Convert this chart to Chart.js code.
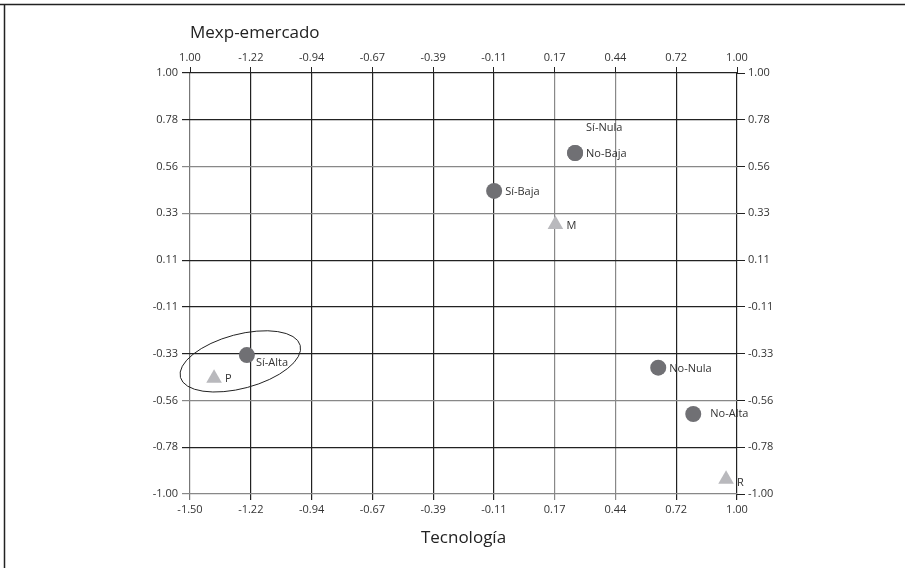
<!DOCTYPE html>
<html>
<head>
<meta charset="utf-8">
<script src="https://cdn.jsdelivr.net/npm/chart.js@4"></script>
<style>
  html, body { margin: 0; padding: 0; background: #fff; }
  #wrap { width: 905px; height: 568px; position: relative; }
</style>
</head>
<body>
<div id="wrap"><canvas id="chart" width="905" height="568"></canvas></div>
<script>
// categories (circles)
const categories = ['Sí-Alta', 'Sí-Baja', 'Sí-Nula', 'No-Baja', 'No-Nula', 'No-Alta'];
const catX = [-1.24, -0.11, 0.26, 0.26, 0.64, 0.80];
const catY = [-0.34, 0.44, 0.62, 0.62, -0.40, -0.62];

// groups (triangles)
const groups = ['P', 'M', 'R'];
const groupX = [-1.39, 0.17, 0.95];
const groupY = [-0.45, 0.28, -0.93];

// axes
const xTicks = [-1.5, -1.2222, -0.9444, -0.6667, -0.3889, -0.1111, 0.1667, 0.4444, 0.7222, 1.0];
const xTickLabels = ['-1.50', '-1.22', '-0.94', '-0.67', '-0.39', '-0.11', '0.17', '0.44', '0.72', '1.00'];
const xTopLabels = ['1.00', '-1.22', '-0.94', '-0.67', '-0.39', '-0.11', '0.17', '0.44', '0.72', '1.00'];
const yTicks = [-1.0, -0.7778, -0.5556, -0.3333, -0.1111, 0.1111, 0.3333, 0.5556, 0.7778, 1.0];
const yTickLabels = ['-1.00', '-0.78', '-0.56', '-0.33', '-0.11', '0.11', '0.33', '0.56', '0.78', '1.00'];

// ellipse around Sí-Alta and P (data centre)
const ellipseCenter = [-1.27, -0.37];

const xTitle = 'Tecnología';
const yTitle = 'Mexp-emercado';

const FONT = '"Open Sans", "DejaVu Sans", sans-serif';
const TEXT = '#333';

// label nudges for a few crowded points (pixels)
const labelNudge = {
    'Sí-Nula': [11, -25],
    'Sí-Alta': [9, 8],
    'No-Alta': [17, 0],
    'R': [11, 4]
};

function setTicks(values) {
    return function (scale) {
        scale.ticks = values.map(v => ({ value: v }));
    };
}

// dark / gray alternation of grid lines as in the picture
const xGridColors = ['#777', '#222', '#222', '#222', '#222', '#222', '#888', '#888', '#222', '#222'];
const yGridColors = ['#888', '#222', '#888', '#222', '#222', '#222', '#888', '#888', '#222', '#222'];

const decorPlugin = {
    id: 'decor',
    beforeDraw(chart) {
        const c = chart.ctx;
        c.save();
        c.strokeStyle = '#222';
        c.lineWidth = 1.5;
        c.beginPath();
        c.moveTo(0, 4.5);
        c.lineTo(chart.width, 4.5);
        c.moveTo(4.5, 4.5);
        c.lineTo(4.5, chart.height);
        c.stroke();
        c.restore();
    },
    afterDatasetsDraw(chart) {
        const c = chart.ctx;
        const area = chart.chartArea;
        const xs = chart.scales.x, ys = chart.scales.y;
        c.save();
        // point labels
        c.font = '11px ' + FONT;
        c.fillStyle = TEXT;
        c.textBaseline = 'middle';
        c.textAlign = 'left';
        chart.data.datasets.forEach((ds, di) => {
            const meta = chart.getDatasetMeta(di);
            meta.data.forEach((pt, i) => {
                const name = ds.names[i];
                const n = labelNudge[name] || [11, 1];
                c.fillText(name, pt.x + n[0], pt.y + n[1]);
            });
        });
        // ellipse
        const cx = xs.getPixelForValue(ellipseCenter[0]);
        const cy = ys.getPixelForValue(ellipseCenter[1]);
        c.strokeStyle = '#222';
        c.lineWidth = 1;
        c.beginPath();
        c.ellipse(cx, cy, 62, 27, -15 * Math.PI / 180, 0, Math.PI * 2);
        c.stroke();
        // axis titles
        c.font = '17px ' + FONT;
        c.fillStyle = '#222';
        c.textAlign = 'center';
        c.fillText(xTitle, (area.left + area.right) / 2, area.bottom + 44);
        c.textAlign = 'left';
        c.fillText(yTitle, area.left, area.top - 40);
        c.restore();
    }
};

const tickFont = { family: FONT, size: 11 };

const ctx = document.getElementById('chart').getContext('2d');
const myChart = new Chart(ctx, {
    type: 'scatter',
    data: {
        datasets: [
            {
                names: categories,
                data: catX.map((x, i) => ({ x: x, y: catY[i] })),
                pointStyle: 'circle',
                pointRadius: 8,
                pointHoverRadius: 8,
                backgroundColor: '#707074',
                borderColor: '#707074',
                borderWidth: 0
            },
            {
                names: groups,
                data: groupX.map((x, i) => ({ x: x, y: groupY[i] })),
                pointStyle: 'triangle',
                pointRadius: 9,
                pointHoverRadius: 9,
                backgroundColor: '#b9b9bd',
                borderColor: '#b9b9bd',
                borderWidth: 0
            }
        ]
    },
    options: {
        responsive: false,
        animation: false,
        events: [],
        layout: { padding: 0 },
        plugins: {
            legend: { display: false },
            tooltip: { enabled: false }
        },
        scales: {
            x: {
                type: 'linear',
                position: 'bottom',
                min: -1.5,
                max: 1.0,
                afterBuildTicks: setTicks(xTicks),
                afterFit: s => { s.height = 74; },
                border: { display: false },
                grid: {
                    color: c => xGridColors[c.index] || '#222',
                    lineWidth: 1.2,
                    tickLength: 6
                },
                ticks: {
                    font: tickFont,
                    color: TEXT,
                    padding: 3,
                    maxRotation: 0,
                    autoSkip: false,
                    callback: (v, i) => xTickLabels[i]
                }
            },
            x2: {
                type: 'linear',
                position: 'top',
                min: -1.5,
                max: 1.0,
                afterBuildTicks: setTicks(xTicks),
                afterFit: s => { s.height = 73; },
                border: { display: false },
                grid: { drawOnChartArea: false, color: '#222', tickLength: 6 },
                ticks: {
                    font: tickFont,
                    color: TEXT,
                    padding: 3,
                    maxRotation: 0,
                    autoSkip: false,
                    callback: (v, i) => xTopLabels[i]
                }
            },
            y: {
                type: 'linear',
                position: 'left',
                min: -1.0,
                max: 1.0,
                afterBuildTicks: setTicks(yTicks),
                afterFit: s => { s.width = 190; },
                border: { display: false },
                grid: {
                    color: c => yGridColors[c.index] || '#222',
                    lineWidth: 1.2,
                    tickLength: 8
                },
                ticks: {
                    font: tickFont,
                    color: TEXT,
                    padding: 4,
                    autoSkip: false,
                    callback: (v, i) => yTickLabels[i]
                }
            },
            y2: {
                type: 'linear',
                position: 'right',
                min: -1.0,
                max: 1.0,
                afterBuildTicks: setTicks(yTicks),
                afterFit: s => { s.width = 168; },
                border: { display: false },
                grid: { drawOnChartArea: false, color: '#222', tickLength: 8 },
                ticks: {
                    font: tickFont,
                    color: TEXT,
                    padding: 3,
                    autoSkip: false,
                    callback: (v, i) => yTickLabels[i]
                }
            }
        }
    },
    plugins: [decorPlugin]
});
</script>
</body>
</html>
